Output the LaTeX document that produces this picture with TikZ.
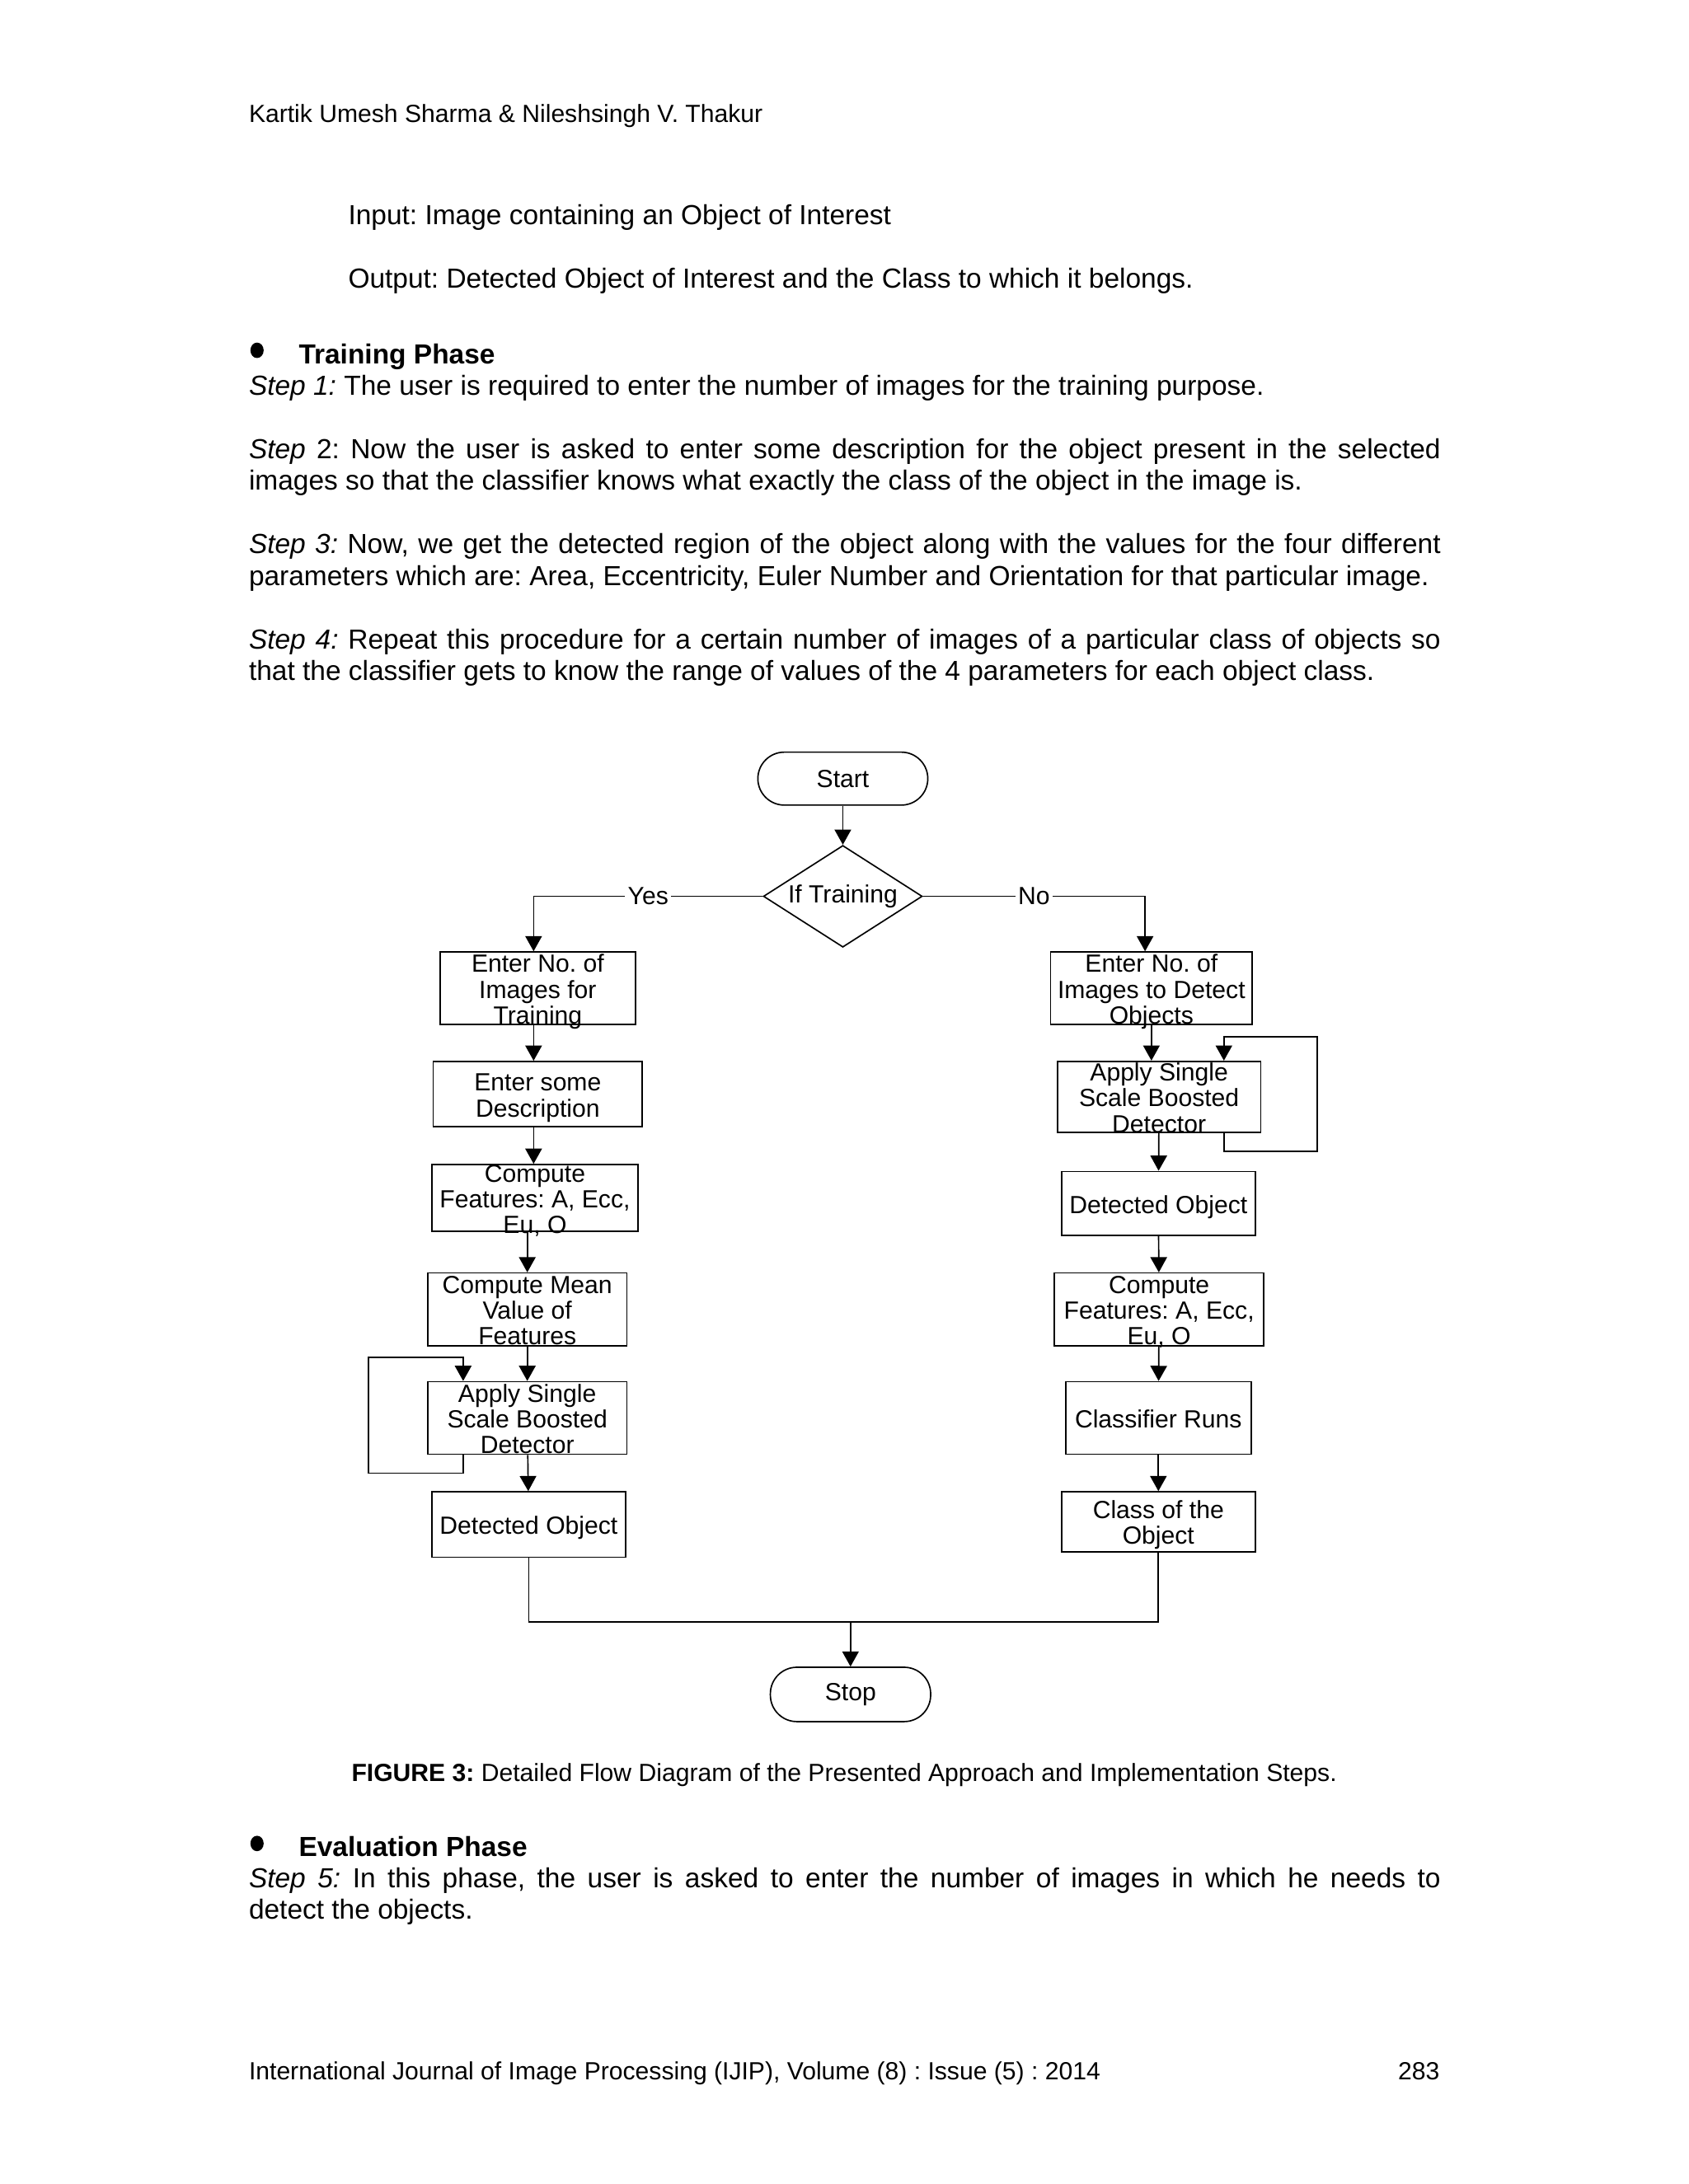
\documentclass[tikz,border=0pt]{standalone}
\usepackage{fontspec}
\setmainfont{Liberation Sans}
\usetikzlibrary{arrows.meta,shapes.geometric}
\frenchspacing
% box text: fixed rows, set a little low as in the drawing
\newcommand{\bt}[1]{\raisebox{-1.7pt}[\height][\depth]{\begin{tabular}{@{}c@{}}#1\end{tabular}}}

\begin{document}
\begin{tikzpicture}[x=0.505pt,y=-0.505pt,>={Triangle[width=6pt,length=5.5pt]},line width=0.5pt,
    txt/.style={anchor=base west,inner sep=0pt,font=\fontsize{10}{11.5}\selectfont},
    smalltxt/.style={anchor=base west,inner sep=0pt,font=\fontsize{9}{10.5}\selectfont},
    term/.style={draw,rectangle,rounded corners=9.6pt,minimum width=61.6pt,minimum height=19.2pt,inner sep=0pt,font=\fontsize{9}{9.3}\selectfont},
    decision/.style={draw,diamond,aspect=1.56,minimum width=57.6pt,minimum height=36.9pt,inner sep=0pt,font=\fontsize{9}{9.3}\selectfont},
    proc/.style={draw,rectangle,inner xsep=0pt,inner ysep=-4pt,font=\fontsize{9}{9.3}\selectfont},
    lbl/.style={fill=white,inner sep=1pt,font=\fontsize{9}{9.3}\selectfont}]

    \useasboundingbox (0,0) rectangle (1212,1568);
    \fill[white] (0,0) rectangle (1212,1568);

    % page text above the figure
    \node[smalltxt] (hdr) at (178.2,87.8) {Kartik Umesh Sharma \& Nileshsingh V. Thakur};
    \node[txt] (inp) at (249.5,161) {Input: Image containing an Object of Interest};
    \node[txt] (outp) at (249.5,206.5) {Output: Detected Object of Interest and the Class to which it belongs.};
    \fill (184.5,251.5) ellipse [x radius=2.4pt,y radius=2.8pt];
    \node[txt,font=\fontsize{10}{11.5}\selectfont\bfseries] (trn) at (214,261) {Training Phase};
    \node[txt] (s1) at (178.2,283.6) {\textit{Step 1:} The user is required to enter the number of images for the training purpose.};
    \node[txt] (s2a) at (178.2,329.1) {\makebox[432pt][s]{\textit{Step} 2: Now the user is asked to enter some description for the object present in the selected}};
    \node[txt] (s2b) at (178.2,351.9) {images so that the classifier knows what exactly the class of the object in the image is.};
    \node[txt] (s3a) at (178.2,397.4) {\makebox[432pt][s]{\textit{Step 3:} Now, we get the detected region of the object along with the values for the four different}};
    \node[txt] (s3b) at (178.2,420.2) {parameters which are: Area, Eccentricity, Euler Number and Orientation for that particular image.};
    \node[txt] (s4a) at (178.2,465.7) {\makebox[432pt][s]{\textit{Step 4:} Repeat this procedure for a certain number of images of a particular class of objects so}};
    \node[txt] (s4b) at (178.2,488.5) {that the classifier gets to know the range of values of the 4 parameters for each object class.};

    % flow diagram
    \node[term] (start) at (605,559) {Start};
    \node[decision] (dec) at (605,643.5) {If Training};

    \node[proc,minimum width=70.7pt,minimum height=26.3pt] (L1) at (386,709.5) {\bt{Enter No. of\\Images for\\Training}};
    \node[proc,minimum width=75.8pt,minimum height=23.7pt] (L2) at (386,785.5) {\bt{Enter some\\Description}};
    \node[proc,minimum width=74.7pt,minimum height=24.2pt] (L3) at (384,860) {\bt{Compute\\Features: A, Ecc,\\Eu, O}};
    \node[proc,minimum width=72.2pt,minimum height=26.3pt] (L4) at (378.5,940) {\bt{Compute Mean\\Value of\\Features}};
    \node[proc,minimum width=72.2pt,minimum height=26.3pt] (L5) at (378.5,1018) {\bt{Apply Single\\Scale Boosted\\Detector}};
    \node[proc,minimum width=70.2pt,minimum height=23.7pt] (L6) at (379.5,1094.5) {\bt{Detected Object}};

    \node[proc,minimum width=73.2pt,minimum height=26.3pt] (R1) at (826.5,709.5) {\bt{Enter No. of\\Images to Detect\\Objects}};
    \node[proc,minimum width=73.7pt,minimum height=25.8pt] (R2) at (832,787.5) {\bt{Apply Single\\Scale Boosted\\Detector}};
    \node[proc,minimum width=70.2pt,minimum height=23.2pt] (R3) at (831.5,864) {\bt{Detected Object}};
    \node[proc,minimum width=75.8pt,minimum height=26.3pt] (R4) at (832,940) {\bt{Compute\\Features: A, Ecc,\\Eu, O}};
    \node[proc,minimum width=67.2pt,minimum height=26.3pt] (R5) at (831.5,1018) {\bt{Classifier Runs}};
    \node[proc,minimum width=70.2pt,minimum height=21.7pt] (R6) at (831.5,1092.5) {\bt{Class of the\\Object}};

    \node[term,minimum width=58.1pt,minimum height=19.7pt] (stop) at (610.5,1216.5) {Stop};
    \coordinate (jn) at ([yshift=16.2pt]stop.north);

    \draw[->] (dec.west) -| node[lbl,pos=0.25] {Yes} ([xshift=-1.5pt]L1.north);
    \draw[->] (dec.east) -| node[lbl,pos=0.25] {No} ([xshift=-2.3pt]R1.north);

    \path[->] (start) edge (dec)
              ([xshift=-1.5pt]L1.south) edge ([xshift=-1.5pt]L1.south |- L2.north)
              ([xshift=-1.5pt]L2.south) edge ([xshift=-1.5pt]L2.south |- L3.north)
              (L4.north |- L3.south) edge (L4)
              (L4) edge (L5)
              (L5) edge (L6)
              (R1) edge (R1 |- R2.north)
              (R2) edge (R3)
              (R3) edge (R4)
              (R4) edge (R5)
              (R5) edge (R6);

    % repeat loops round the detectors
    \draw[->] ([xshift=13.1pt]L5.south west) -- ++(0,-6.6pt) -| ([xshift=-21.2pt,yshift=8.6pt]L5.north west)
              -- ([xshift=13.1pt,yshift=8.6pt]L5.north west) -- ([xshift=13.1pt]L5.north west);
    \draw[->] ([xshift=-13.6pt]R2.south east) -- ++(0,-6.6pt) -| ([xshift=20.2pt,yshift=8.6pt]R2.north east)
              -- ([xshift=-13.6pt,yshift=8.6pt]R2.north east) -- ([xshift=-13.6pt]R2.north east);

    \draw (L6) |- (jn) -| (R6);
    \draw[->] (jn) -- (stop);

    % caption and text below
    \node[smalltxt,anchor=base] (cap) at (606,1278.7) {\textbf{FIGURE 3:} Detailed Flow Diagram of the Presented Approach and Implementation Steps.};
    \fill (184.5,1323.5) ellipse [x radius=2.4pt,y radius=2.8pt];
    \node[txt,font=\fontsize{10}{11.5}\selectfont\bfseries] (evl) at (214,1332.7) {Evaluation Phase};
    \node[txt] (s5a) at (178.2,1355.2) {\makebox[432pt][s]{\textit{Step 5:} In this phase, the user is asked to enter the number of images in which he needs to}};
    \node[txt] (s5b) at (178.2,1378) {detect the objects.};

    \node[smalltxt] (foot) at (178.2,1493.1) {International Journal of Image Processing (IJIP), Volume (8) : Issue (5) : 2014};
    \node[smalltxt,anchor=base east] (pg) at (1033.8,1493.1) {283};
\end{tikzpicture}
\end{document}
